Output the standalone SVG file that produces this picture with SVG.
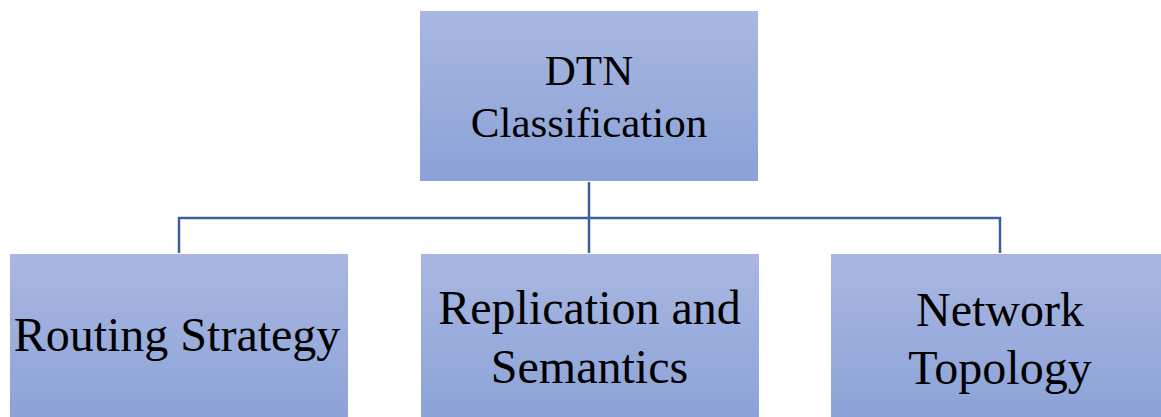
<svg xmlns="http://www.w3.org/2000/svg" width="1161" height="417" viewBox="0 0 1161 417">
  <defs>
    <linearGradient id="boxFill" x1="0" y1="0" x2="0" y2="1">
      <stop offset="0" stop-color="#a9b7e1"/>
      <stop offset="1" stop-color="#8ba2d7"/>
    </linearGradient>
    <style>
      .box { fill: url(#boxFill); stroke: #ffffff; stroke-width: 1; }
      .label { font-family: "Liberation Serif", "Times New Roman", serif; fill: #000000; text-anchor: middle; }
      .top { font-size: 43px; }
      .leaf { font-size: 48px; }
      .link { fill: none; stroke: #3d5f9c; stroke-width: 2.5; }
    </style>
  </defs>
  <rect width="1161" height="417" fill="#ffffff"/>

  <!-- tree connectors -->
  <g id="connectors">
    <path class="link" d="M589 181 V253"/>
    <path class="link" d="M179 253 V218 H1000 V253"/>
  </g>

  <g id="node-dtn">
    <rect class="box" x="419.5" y="10.5" width="339" height="171"/>
    <text class="label top" x="589" y="85">DTN</text>
    <text class="label top" x="589" y="137">Classification</text>
  </g>

  <g id="node-routing">
    <rect class="box" x="9.5" y="253.5" width="339" height="171"/>
    <text class="label leaf" x="177" y="351">Routing Strategy</text>
  </g>

  <g id="node-replication">
    <rect class="box" x="420.5" y="253.5" width="339" height="171"/>
    <text class="label leaf" x="589.5" y="324">Replication and</text>
    <text class="label leaf" x="589.5" y="383">Semantics</text>
  </g>

  <g id="node-topology">
    <rect class="box" x="830.5" y="253.5" width="339" height="171"/>
    <text class="label leaf" x="1000" y="326">Network</text>
    <text class="label leaf" x="1000" y="384">Topology</text>
  </g>
</svg>
